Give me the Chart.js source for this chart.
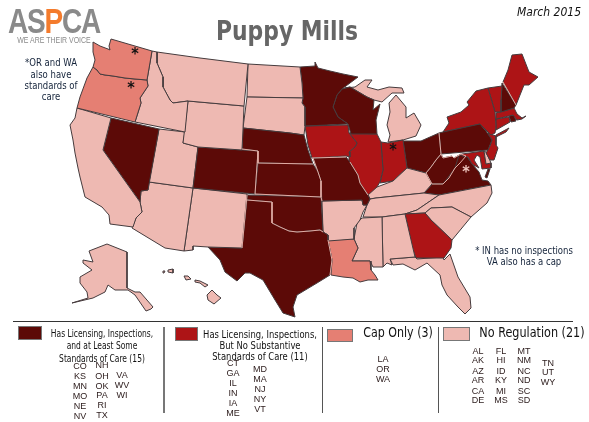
<!DOCTYPE html>
<html><head><meta charset="utf-8">
<script src="https://cdn.jsdelivr.net/npm/chart.js@4"></script>
<style>
html,body{margin:0;padding:0;background:#fff;overflow:hidden}
#wrap{position:relative;width:589px;height:422px;overflow:hidden}
canvas{position:absolute;left:0;top:0}
.t{position:absolute;white-space:nowrap;font-family:"DejaVu Sans Condensed","DejaVu Sans",sans-serif;line-height:1}
.s{position:absolute;box-sizing:border-box;border:1px solid #777}
.r{position:absolute;background:#555}
</style></head><body><div id="wrap"><canvas id="map" width="589" height="422"></canvas></div>
<script>
// Regulation groups
const groupNames = ["Has Licensing, Inspections,\nand at Least Some\nStandards of Care (15)","Has Licensing, Inspections,\nBut No Substantive\nStandards of Care (11)","Cap Only (3)","No Regulation (21)"];
const fullRegulation = ["CO","KS","MN","MO","NE","NV","NH","OH","OK","PA","RI","TX","VA","WV","WI"];
const noStandards = ["CT","GA","IL","IN","IA","ME","MD","MA","NJ","NY","VT"];
const capOnly = ["LA","OR","WA"];
const noRegulation = ["AL","AK","AZ","AR","CA","DE","FL","HI","ID","KY","MI","MS","MT","NM","NC","ND","SC","SD","TN","UT","WY"];

// State outlines, in map units
const WA=[[93,42],[100,46],[108,49],[110,50],[109,46],[111,39],[152,51],[147,80],[135,79],[125,78],[113,76],[105,75],[100,74],[97,70],[93,67],[95,60],[93,52]];
const OR=[[93,67],[97,70],[100,74],[105,75],[113,76],[125,78],[135,79],[147,80],[148,86],[140,98],[141,103],[135,122],[77,108],[80,97],[87,78]];
const CA=[[77,108],[111,118],[103,150],[140,202],[142,212],[136,218],[133,227],[110,224],[109,215],[102,207],[85,197],[80,177],[78,168],[75,153],[73,140],[70,125],[75,118]];
const NV=[[111,118],[159,129],[148,190],[141,191],[140,202],[103,150]];
const ID=[[152,51],[157,52],[157,63],[163,77],[163,87],[170,100],[173,103],[188,101],[185,132],[135,122],[141,103],[140,98],[148,86],[147,80]];
const MT=[[157,52],[200,58],[248,64],[244,106],[188,101],[173,103],[170,100],[163,87],[163,77],[157,63]];
const WY=[[188,101],[244,106],[243,129],[242,150],[198,147],[183,143]];
const CO=[[198,147],[258,151],[255,194],[193,188]];
const UT=[[159,129],[185,132],[183,143],[198,147],[193,188],[149,182]];
const AZ=[[149,182],[193,188],[184,251],[165,248],[132,228],[136,218],[142,212],[140,202],[141,191],[148,190]];
const NM=[[193,188],[247,194],[242,248],[208,247],[193,246],[193,250],[184,251]];
const TX=[[247,200],[272,202],[272,223],[280,227],[289,231],[297,232],[310,231],[320,230],[328,235],[328,240],[332,260],[330,275],[317,283],[297,295],[293,307],[295,317],[283,313],[275,300],[263,280],[250,273],[245,273],[237,281],[225,272],[220,260],[208,247],[242,248]];
const OK=[[247,195],[321,197],[323,232],[320,230],[310,231],[297,232],[289,231],[280,227],[272,223],[272,202],[247,200]];
const KS=[[258,163],[313,164],[318,172],[321,181],[321,197],[255,194]];
const NE=[[243,128],[290,133],[304,135],[308,150],[313,164],[258,163],[258,151],[242,149]];
const SD=[[247,97],[303,98],[302,103],[305,107],[305,126],[304,135],[290,133],[243,128]];
const ND=[[248,64],[300,67],[302,83],[303,98],[247,97]];
const MN=[[300,67],[315,66],[315,62],[318,68],[330,71],[343,74],[358,77],[342,89],[337,95],[333,107],[338,117],[348,124],[305,126],[305,107],[302,103],[303,98],[302,83]];
const WI=[[342,89],[350,87],[367,97],[374,100],[373,110],[380,104],[376,120],[377,134],[351,134],[348,124],[338,117],[333,107],[337,95]];
const IA=[[305,126],[348,125],[349,133],[357,143],[355,147],[349,152],[350,157],[346,156],[312,158],[308,145]];
const MO=[[313,158],[346,157],[350,162],[358,175],[360,183],[368,195],[370,199],[367,205],[363,205],[362,200],[322,201],[321,181],[318,172]];
const AR=[[322,201],[362,200],[363,205],[367,205],[363,212],[360,220],[354,228],[354,239],[328,241],[328,235],[323,232]];
const LA=[[328,240],[354,239],[358,248],[352,261],[370,261],[371,270],[375,275],[378,280],[368,280],[360,282],[353,278],[343,277],[331,275],[332,260]];
const MS=[[362,218],[382,217],[383,267],[373,267],[370,261],[352,261],[358,248],[354,239],[357,223]];
const AL=[[382,217],[405,214],[415,257],[390,259],[392,265],[387,263],[383,267]];
const GA=[[405,214],[425,213],[431,220],[452,240],[451,248],[444,258],[416,258],[412,247]];
const FL=[[390,259],[415,257],[417,259],[443,257],[444,260],[450,254],[458,277],[470,297],[471,308],[465,314],[458,307],[447,295],[442,285],[440,275],[427,263],[415,270],[403,264],[393,265]];
const SC=[[425,213],[431,208],[452,207],[471,217],[452,240],[431,220]];
const NC=[[417,210],[439,195],[491,185],[492,193],[487,203],[471,217],[452,207],[431,208],[425,213],[405,214]];
const TN=[[370,199],[376,198],[424,193],[439,195],[417,210],[405,214],[382,217],[363,217],[367,205]];
const KY=[[370,199],[368,195],[377,187],[393,181],[407,168],[426,173],[432,184],[424,193],[376,198]];
const IL=[[349,133],[377,134],[381,142],[383,170],[380,182],[377,187],[372,193],[368,195],[360,183],[358,175],[350,162],[349,152],[355,147],[357,143]];
const IN=[[381,142],[388,143],[403,140],[407,168],[393,181],[380,183],[383,170]];
const OH=[[403,141],[421,141],[439,133],[441,154],[436,160],[431,167],[426,173],[407,168]];
const MI=[[388,142],[403,140],[416,136],[421,125],[414,113],[406,118],[406,107],[396,95],[389,103],[390,112],[387,125],[390,135]];
const MI_UP=[[345,88],[355,87],[365,80],[372,80],[367,87],[378,90],[389,87],[402,88],[404,93],[392,93],[382,102],[374,100],[367,97],[350,87]];
const PA=[[439,133],[443,132],[480,124],[486,131],[492,140],[488,150],[441,154]];
const NY=[[447,117],[461,112],[469,105],[467,102],[476,91],[488,88],[495,112],[496,127],[495,133],[491,135],[480,124],[443,132],[449,123]];
const NY_LI=[[496,135],[509,128],[506,132],[496,137]];
const VT=[[488,88],[502,86],[501,100],[501,112],[495,112]];
const NH=[[502,83],[516,105],[514,108],[501,112],[501,100]];
const ME=[[503,82],[508,70],[512,55],[522,54],[529,72],[538,77],[529,85],[524,85],[516,105]];
const MA=[[496,113],[514,108],[517,114],[522,118],[526,116],[522,119],[517,120],[513,115],[496,119]];
const CT=[[496,119],[509,117],[510,122],[496,130]];
const RI=[[509,116],[514,115],[516,121],[511,122]];
const NJ=[[487,133],[496,136],[496,145],[498,148],[494,160],[490,160],[486,153],[490,146],[492,140]];
const DE=[[484,151],[486,152],[491,163],[486,164]];
const MD=[[462,154],[484,151],[486,164],[491,163],[491,168],[482,169],[480,157],[477,155],[474,160],[479,168],[472,164],[468,157],[462,156]];
const VA=[[424,193],[432,184],[443,184],[455,168],[459,155],[466,156],[468,158],[473,165],[479,172],[482,180],[488,181],[491,185],[439,195]];
const VA_ES=[[488,169],[490,169],[487,178],[485,177]];
const WV=[[441,154],[443,158],[452,156],[454,158],[461,154],[466,156],[460,163],[455,168],[449,178],[443,184],[432,184],[426,173],[431,167],[436,160]];
const AK=[[89,251],[107,244],[127,252],[127,288],[135,292],[140,292],[153,307],[151,309],[146,311],[135,295],[128,290],[115,290],[108,285],[105,292],[93,298],[72,303],[88,298],[87,292],[80,283],[80,277],[92,270],[83,263],[83,260],[93,262]];
const HI_NIIHAU=[[163,271],[165,271],[164,273],[163,273]];
const HI_KAUAI=[[168,270],[173,269],[173,273],[168,272]];
const HI_OAHU=[[184,276],[188,276],[191,279],[186,280]];
const HI_MAUI=[[195,280],[200,281],[208,285],[205,287],[200,283],[195,282]];
const HI_BIG=[[212,290],[217,295],[221,298],[214,304],[208,300],[207,295]];

const stateShapes={WA:[WA],OR:[OR],CA:[CA],NV:[NV],ID:[ID],MT:[MT],WY:[WY],CO:[CO],UT:[UT],AZ:[AZ],NM:[NM],TX:[TX],OK:[OK],KS:[KS],NE:[NE],SD:[SD],ND:[ND],MN:[MN],WI:[WI],IA:[IA],MO:[MO],AR:[AR],LA:[LA],MS:[MS],AL:[AL],GA:[GA],FL:[FL],SC:[SC],NC:[NC],TN:[TN],KY:[KY],IL:[IL],IN:[IN],OH:[OH],MI:[MI,MI_UP],PA:[PA],NY:[NY,NY_LI],VT:[VT],NH:[NH],ME:[ME],MA:[MA],CT:[CT],RI:[RI],NJ:[NJ],DE:[DE],MD:[MD],VA:[VA,VA_ES],WV:[WV],AK:[AK],HI:[HI_NIIHAU,HI_KAUAI,HI_OAHU,HI_MAUI,HI_BIG]};

// Pale borders shared between heavily regulated states
const paleBorders=[
 [[258,151],[255,194]],[[242,149],[258,151],[258,163],[313,164]],[[255,194],[321,197]],[[247,195],[242,248]],
 [[272,223],[280,227],[289,231],[297,232],[310,231],[320,230],[323,232]],[[247,200],[272,202],[272,223]],
 [[313,158],[318,172],[321,181],[321,197],[322,201]],[[312,158],[346,157]],
 [[350,162],[358,175],[360,183],[368,195]],[[328,240],[332,260],[330,275]],
 [[439,133],[441,154]],[[441,154],[436,160],[431,167],[426,173],[432,184]],
 [[432,184],[443,184],[449,178],[455,168],[460,163],[466,156],[461,154],[454,158],[452,156],[443,158],[441,154]],
 [[503,82],[516,105]]
];

const palette=["#5c0a07","#ad1416","#e57f73","#eeb9b2"];
const groups=[fullRegulation,noStandards,capOnly,noRegulation];

const datasets=[];
const xy=p=>({x:p[0],y:p[1]});
Object.keys(stateShapes).forEach(st=>{
  const g=groups.findIndex(a=>a.includes(st));
  stateShapes[st].forEach(poly=>{
    datasets.push({label:st,data:[...poly,poly[0]].map(xy),showLine:true,fill:'shape',tension:0,
      backgroundColor:palette[g],borderColor:'#453b3d',borderWidth:1,pointRadius:0,order:2});
  });
});
paleBorders.forEach((b,i)=>datasets.push({label:'border'+i,data:b.map(xy),showLine:true,fill:false,tension:0,
  borderColor:'#e3aaa2',borderWidth:1,pointRadius:0,order:1}));

new Chart(document.getElementById('map'),{type:'scatter',data:{datasets},options:{
  responsive:false,animation:false,layout:{padding:0},
  plugins:{legend:{display:false},tooltip:{enabled:false}},
  scales:{x:{type:'linear',min:0,max:589,display:false},y:{type:'linear',min:0,max:422,reverse:true,display:false}}
}});

// Text and legend
const wrap=document.getElementById('wrap');
function txt(s,x,y,o={}){const d=document.createElement('div');d.className='t';d.textContent=s;
  d.style.left=x+'px';d.style.top=y+'px';d.style.fontSize=(o.size||10)+'px';d.style.color=o.color||'#111';
  d.style.transform=`translate(-50%,-50%) scaleX(${o.sx||1})`;
  if(o.font)d.style.fontFamily=o.font;if(o.weight)d.style.fontWeight=o.weight;if(o.style)d.style.fontStyle=o.style;
  if(o.ls)d.style.letterSpacing=o.ls;if(o.html)d.innerHTML=o.html;wrap.appendChild(d);return d;}
function box(x,y,w,h,bg){const d=document.createElement('div');d.className='s';d.style.cssText+=`left:${x}px;top:${y}px;width:${w}px;height:${h}px;background:${bg}`;wrap.appendChild(d);}
function rule(x,y,w,h,c){const d=document.createElement('div');d.className='r';d.style.cssText+=`left:${x}px;top:${y}px;width:${w}px;height:${h}px;background:${c||'#555'}`;wrap.appendChild(d);}

const sans='"Liberation Sans",sans-serif';
txt('',54,20,{size:35,weight:700,font:sans,color:'#8a8a8a',ls:'-1.5px',sx:.8,html:'AS<span style="color:#f47b2c">P</span>CA'});
txt('WE ARE THEIR VOICE',54,40,{size:8.5,font:sans,color:'#8a8a8a',sx:.82});
txt('Puppy Mills',287,30,{size:27,weight:700,color:'#666',sx:.9});
txt('March 2015',549,12,{size:12,style:'italic',color:'#111'});
['*OR and WA','also have','standards of','care'].forEach((s,i)=>txt(s,51,[62,74,85,96][i],{size:10.5,color:'#14233a',sx:.9}));
['* IN has no inspections','VA also has a cap'].forEach((s,i)=>txt(s,524,[250,261][i],{size:10.5,color:'#14233a',sx:.9}));
[['*',135,54,16,'#111'],['*',131,88,16,'#111'],['*',393,150,16,'#111'],['*',466,172,16,'#f0c8c0']].forEach(a=>
  txt(a[0],a[1],a[2],{size:a[3],color:a[4],weight:700}));

rule(13,321,560,1,'#333');
rule(163,327,1.5,86,'#777');rule(322,327,1,86,'#555');rule(438,327,1,86,'#555');
box(18,326,24,14,palette[0]);box(175,327,23,14,palette[1]);box(327,329,26,13,palette[2]);box(443,327,27,14,palette[3]);

const n1=groupNames[0].split('\n'),n2=groupNames[1].split('\n');
n1.forEach((s,i)=>txt(s,102,[333,345,358][i],{size:10.5,sx:.8}));
n2.forEach((s,i)=>txt(s,260,[334,345,356][i],{size:10.5,sx:.89}));
txt(groupNames[2],398,332,{size:14.5,sx:.85});
txt(groupNames[3],532,332,{size:14.5,sx:.86});

const listFont={size:9,font:sans,color:'#2a1a1a'};
function col(names,x,ys){names.forEach((s,i)=>txt(s,x,ys[i],listFont));}
col(fullRegulation.slice(0,6),80,[366,376,386,396,406,416]);
col(fullRegulation.slice(6,12),102,[365,376,386,395,405,415]);
col(fullRegulation.slice(12),122,[375,385,395]);
col(noStandards.slice(0,6),233,[363,373,383,393,403,413]);
col(noStandards.slice(6),260,[369,379,389,399,409]);
col(capOnly,383,[359,369,379]);
const rowsNR=[351,360,371,380,391,400];
col(noRegulation.slice(0,6),478,rowsNR);
col(noRegulation.slice(6,12),501,rowsNR);
col(noRegulation.slice(12,18),524,rowsNR);
col(noRegulation.slice(18),548,[363,372,382]);
</script></body></html>
